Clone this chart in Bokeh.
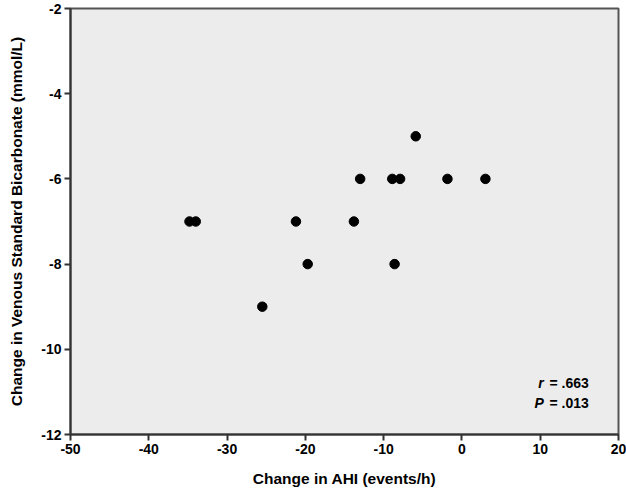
from bokeh.plotting import figure
from bokeh.models import ColumnDataSource, Range1d, FixedTicker, Label
from bokeh.embed import file_html
from bokeh.resources import INLINE

# Data
ahi_change = [-34.8, -34.0, -25.5, -21.2, -19.7, -13.8, -13.0, -8.9, -8.6, -7.9, -5.9, -1.85, 3.0]
bicarb_change = [-7, -7, -9, -7, -8, -7, -6, -6, -8, -6, -5, -6, -6]
x_ticks = [-50, -40, -30, -20, -10, 0, 10, 20]
y_ticks = [-12, -10, -8, -6, -4, -2]
x_label = "Change in AHI (events/h)"
y_label = "Change in Venous Standard Bicarbonate (mmol/L)"
stat_r = ".663"
stat_p = ".013"

FONT = "Liberation Sans"

p = figure(
    frame_width=548, frame_height=426,
    min_border_left=70, min_border_right=8, min_border_top=8, min_border_bottom=67,
    x_range=Range1d(-50, 20), y_range=Range1d(-12, -2),
    output_backend="svg", toolbar_location=None,
)

p.background_fill_color = "#ECECEC"
p.border_fill_color = "white"
p.outline_line_color = "#555555"
p.outline_line_width = 2
p.xgrid.visible = False
p.ygrid.visible = False

src = ColumnDataSource(dict(x=ahi_change, y=bicarb_change))
p.scatter("x", "y", source=src, size=9.5, color="black")

for ax, ticks, lab in ((p.xaxis[0], x_ticks, x_label), (p.yaxis[0], y_ticks, y_label)):
    ax.ticker = FixedTicker(ticks=ticks)
    ax.major_label_overrides = {t: str(t) for t in ticks}
    ax.axis_label = lab
    ax.axis_line_color = "#333333"
    ax.axis_line_width = 2
    ax.major_tick_line_color = "#333333"
    ax.major_tick_line_width = 2
    ax.major_tick_out = 6
    ax.major_tick_in = 0
    ax.minor_tick_out = 0
    ax.minor_tick_in = 0
    ax.major_label_text_font = FONT
    ax.major_label_text_font_style = "bold"
    ax.major_label_text_font_size = "14px"
    ax.major_label_text_color = "black"
    ax.axis_label_text_font = FONT
    ax.axis_label_text_font_style = "bold"
    ax.axis_label_text_font_size = "15.5px"
    ax.axis_label_text_color = "black"

p.xaxis.major_label_standoff = 3
p.yaxis.major_label_standoff = 3
p.xaxis.axis_label_standoff = 13
p.yaxis.axis_label_standoff = 13

xr = 16.2
for yv, letter, val in ((-10.80, "r", stat_r), (-11.25, "P", stat_p)):
    p.add_layout(Label(x=xr, y=yv, text="= " + val, text_align="right",
                       text_baseline="alphabetic", text_font=FONT,
                       text_font_style="bold", text_font_size="14px", text_color="black"))
    p.add_layout(Label(x=xr, y=yv, x_offset=-45, text=letter, text_align="right",
                       text_baseline="alphabetic", text_font=FONT,
                       text_font_style="bold italic", text_font_size="14px", text_color="black"))

open("out.html", "w").write(file_html(p, INLINE))
